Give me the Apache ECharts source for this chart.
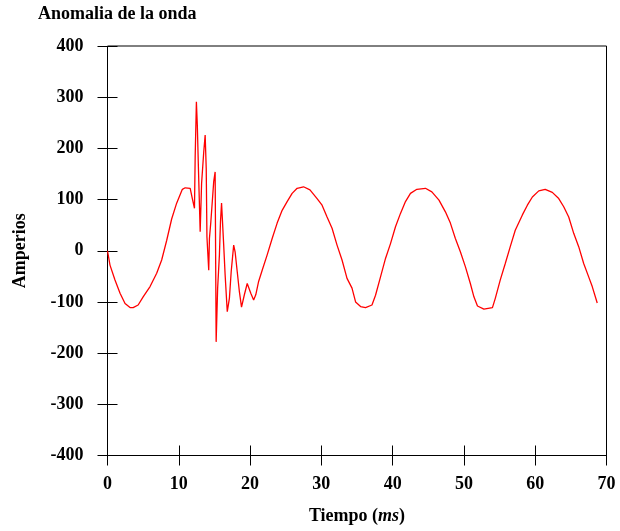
<!DOCTYPE html>
<html>
<head>
<meta charset="utf-8">
<title>Anomalia de la onda</title>
<script src="https://cdn.jsdelivr.net/npm/echarts@6/dist/echarts.min.js"></script>
<style>
    html, body { margin: 0; padding: 0; background: #fff; }
    #main { width: 620px; height: 531px; }
</style>
</head>
<body>
<div id="main"></div>
<script>
// datos: tiempo (ms) y corriente (A)
var tiempo = [
    0, 0.35, 1.05, 1.76, 2.46, 3.16, 3.6, 4.3, 5.0, 5.97, 6.9, 7.6, 8.3, 9.0, 9.7, 10.5, 10.9, 11.6, 11.9,
    12.2, 12.3, 12.47, 12.6, 12.75, 13.0, 13.2, 13.5, 13.7, 13.85, 13.95, 14.2, 14.3, 14.5, 14.9, 15.1,
    15.24, 15.45, 15.7, 15.85, 16.0, 16.3, 16.5, 16.8, 17.1, 17.35, 17.7, 17.9, 18.2, 18.5, 18.8, 19.2,
    19.6, 20.1, 20.5, 20.8, 21.2, 21.7, 22.4, 23.1, 23.8, 24.5, 25.2, 25.9, 26.6, 27.5, 28.4, 29.4, 30.1,
    30.8, 31.5, 32.2, 32.9, 33.6, 34.3, 34.8, 35.5, 36.2, 37.1, 37.6, 38.3, 39.0, 39.7, 40.4, 41.1, 41.8,
    42.5, 43.4, 44.6, 45.5, 46.5, 47.4, 48.1, 48.8, 49.5, 50.2, 50.9, 51.4, 51.9, 52.8, 54.0, 54.4, 55.1,
    55.8, 56.5, 57.2, 58.2, 58.9, 59.6, 60.5, 61.4, 62.4, 63.3, 64.0, 64.7, 65.4, 66.1, 66.8, 67.5, 68.0,
    68.7
];
var amperios = [
    0, -28, -57, -83, -103, -111, -111, -106, -90, -70, -44, -18, 20, 62, 93, 120, 123, 122, 102,
    83, 184, 291, 245, 164, 37, 132, 193, 226, 160, 27, -38, 24, 57, 135, 154,
    -178, -73, -8, 57, 93, 11, -47, -119, -93, -41, 11, -2, -41, -80, -110, -86,
    -64, -83, -96, -86, -60, -38, -8, 24, 54, 79, 96, 112, 122, 125, 119, 102, 89,
    66, 44, 11, -18, -54, -73, -100, -109, -111, -106, -87, -51, -15, 14, 47, 73, 96,
    112, 120, 122, 115, 99, 76, 54, 24, -2, -31, -64, -90, -108, -114, -111, -93, -57,
    -25, 8, 40, 70, 89, 105, 117, 120, 114, 102, 86, 66, 34, 8, -25, -51, -70,
    -102
];

// ejes
var xMin = 0, xMax = 70, xStep = 10;
var yMin = -400, yMax = 400, yStep = 100;

var serie = [];
for (var i = 0; i < tiempo.length; i++) {
    serie.push([tiempo[i], amperios[i]]);
}

var fuente = { fontFamily: 'Liberation Serif', fontWeight: 'bold', fontSize: 18, color: '#000' };

var chart = echarts.init(document.getElementById('main'));

// el marco lo dibuja el borde del grid; los ejes se desplazan 10px hacia dentro
// para que las marcas de 20px crucen la linea del marco
var option = {
    backgroundColor: '#fff',
    animation: false,
    title: {
        text: 'Anomalia de la onda',
        left: 38,
        top: 5,
        padding: 0,
        textStyle: fuente
    },
    grid: {
        left: 107.5, right: 13.5, top: 46, bottom: 75.5,
        show: true, borderColor: '#000', borderWidth: 1
    },
    xAxis: {
        type: 'value',
        min: xMin, max: xMax, interval: xStep,
        offset: -10,
        name: '{a|Tiempo (}{b|ms}{a|)}',
        nameLocation: 'middle',
        nameGap: 62,
        nameTextStyle: {
            rich: {
                a: fuente,
                b: { fontFamily: 'Liberation Serif', fontWeight: 'bold', fontStyle: 'italic', fontSize: 18, color: '#000' }
            }
        },
        axisLine: { show: false, onZero: false },
        axisTick: { show: true, length: 20, lineStyle: { color: '#000', width: 1 } },
        axisLabel: { margin: 30, fontFamily: fuente.fontFamily, fontWeight: 'bold', fontSize: 18, color: '#000' },
        splitLine: { show: false }
    },
    yAxis: {
        type: 'value',
        min: yMin, max: yMax, interval: yStep,
        offset: -10,
        name: 'Amperios',
        nameLocation: 'middle',
        nameGap: 88,
        nameTextStyle: fuente,
        axisLine: { show: false, onZero: false },
        axisTick: { show: true, length: 20, lineStyle: { color: '#000', width: 1 } },
        axisLabel: { margin: 34, fontFamily: fuente.fontFamily, fontWeight: 'bold', fontSize: 18, color: '#000' },
        splitLine: { show: false }
    },
    series: [
        {
            name: 'Corriente',
            type: 'line',
            data: serie,
            showSymbol: false,
            smooth: false,
            lineStyle: { color: '#ff0000', width: 1.3 }
        }
    ]
};

chart.setOption(option);
</script>
</body>
</html>
